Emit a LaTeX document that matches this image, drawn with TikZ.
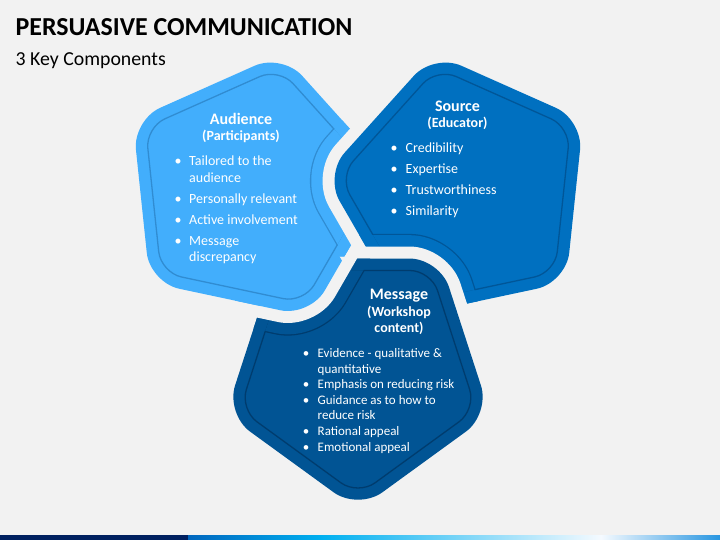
\documentclass[tikz,border=0pt]{standalone}
\usepackage{fontspec}
\setmainfont{Carlito}
\usetikzlibrary{calc}
\definecolor{bgc}{HTML}{F2F2F2}
\definecolor{cA}{RGB}{66,174,252}
\definecolor{lA}{RGB}{48,140,210}
\definecolor{cB}{RGB}{0,112,192}
\definecolor{lB}{RGB}{0,86,152}
\definecolor{cC}{RGB}{1,84,148}
\definecolor{lC}{RGB}{0,60,110}
\definecolor{navy}{RGB}{0,32,96}
\newcommand\pentp[4]{($(#1,#2)+(#4:#3)$) -- ($(#1,#2)+(#4+72:#3)$) -- ($(#1,#2)+(#4+144:#3)$) -- ($(#1,#2)+(#4+216:#3)$) -- ($(#1,#2)+(#4+288:#3)$) -- cycle}
\def\PA{\pentp{253.2}{189.5}{139}{66}}
\def\PAi{\pentp{253.2}{189.5}{124.2}{66}}
\def\PAx{\pentp{253.2}{189.5}{141}{66}}
\def\PB{\pentp{462.8}{189.5}{139}{-30}}
\def\PBi{\pentp{462.8}{189.5}{124.2}{-30}}
\def\PBx{\pentp{462.8}{189.5}{141}{-30}}
\def\PC{\pentp{358}{371}{139}{90}}
\def\PCi{\pentp{358}{371}{124.2}{90}}
\def\PCx{\pentp{358}{371}{141}{90}}
\tikzset{
  outer/.style={rounded corners=30pt},
  inner/.style={rounded corners=21pt},
  inl/.style={line width=1.3pt, inner},
  thick ring/.style={outer, line join=round},
  hd/.style={text=white, font=\fontsize{16}{18}\selectfont\bfseries, anchor=base, inner sep=0pt},
  sb/.style={text=white, font=\fontsize{14}{16}\selectfont\bfseries, anchor=base, inner sep=0pt},
  bl/.style={text=white, font=\fontsize{14}{16}\selectfont, anchor=base west, inner sep=0pt},
  bu/.style={text=white, font=\fontsize{14}{16}\selectfont, anchor=base, inner sep=0pt},
  blm/.style={text=white, font=\fontsize{13}{15}\selectfont, anchor=base west, inner sep=0pt},
  bum/.style={text=white, font=\fontsize{13}{15}\selectfont, anchor=base, inner sep=0pt},
}
% #1 shape path, #2 inset path, #3 poking neighbour, #4 fill colour, #5 line colour, #6 enlarged shape
\newcommand\notched[6]{%
  \fill[#4, outer] #1;
  \draw[#5, inl] #2;
  \begin{scope}
    \clip[outer] #1;
    \draw[#4, fill=#4, thick ring, line width=46.7pt] #3;
  \end{scope}
  \begin{scope}
    \clip[inner] #2;
    \draw[#5, fill=#5, thick ring, line width=49.3pt] #3;
    \draw[#4, fill=#4, thick ring, line width=46.7pt] #3;
  \end{scope}
  \begin{scope}
    \clip[outer] #6;
    \draw[bgc, fill=bgc, thick ring, line width=24pt] #3;
  \end{scope}
}
\begin{document}
\begin{tikzpicture}[x=1pt,y=-1pt]
\useasboundingbox (0,0) rectangle (720,540);
\fill[bgc] (0,0) rectangle (720,540);

\node[anchor=base west, inner sep=0pt, font=\fontsize{25.9}{30}\selectfont\bfseries] (title) at (15.5,36) {PERSUASIVE COMMUNICATION};
\node[anchor=base west, inner sep=0pt, font=\fontsize{19.8}{23}\selectfont] (subtitle) at (15.5,65.5) {3 Key Components};

\notched{\PA}{\PAi}{\PB}{cA}{lA}{\PAx}
\notched{\PB}{\PBi}{\PC}{cB}{lB}{\PBx}
\notched{\PC}{\PCi}{\PA}{cC}{lC}{\PCx}
% audience vertex poking into the message
\begin{scope}
  \clip (235,245) -- (333,245) -- (350,275) -- (350,335) -- (235,335) -- cycle;
  \fill[cA, outer] \PA;
  \draw[lA, inl] \PAi;
\end{scope}

% Audience
\node[hd] (audh) at (241,125) {Audience};
\node[sb] (auds) at (241,140.5) {(Participants)};
\node[bu] (ab1) at (178,166) {•};
\node[bl] (at1) at (189,166) {Tailored to the};
\node[bl] (at1b) at (189,182.5) {audience};
\node[bu] (ab2) at (178,204) {•};
\node[bl] (at2) at (189,204) {Personally relevant};
\node[bu] (ab3) at (178,225) {•};
\node[bl] (at3) at (189,225) {Active involvement};
\node[bu] (ab4) at (178,245) {•};
\node[bl] (at4) at (189,245) {Message};
\node[bl] (at4b) at (189,261.5) {discrepancy};

% Source
\node[hd] (srch) at (457.5,111.5) {Source};
\node[sb] (srcs) at (457.5,127.5) {(Educator)};
\node[bu] (sb1) at (394,153) {•};
\node[bl] (st1) at (405.5,153) {Credibility};
\node[bu] (sb2) at (394,173.5) {•};
\node[bl] (st2) at (405.5,173.5) {Expertise};
\node[bu] (sb3) at (394,194.5) {•};
\node[bl] (st3) at (405.5,194.5) {Trustworthiness};
\node[bu] (sb4) at (394,215) {•};
\node[bl] (st4) at (405.5,215) {Similarity};

% Message
\node[hd] (msgh) at (399,299.5) {Message};
\node[sb] (msgs1) at (399,316) {(Workshop};
\node[sb] (msgs2) at (399,332) {content)};
\node[bum] (mb1) at (306,357.5) {•};
\node[blm] (mt1) at (317.5,357.5) {Evidence - qualitative \&};
\node[blm] (mt1b) at (317.5,373) {quantitative};
\node[bum] (mb2) at (306,388.5) {•};
\node[blm] (mt2) at (317.5,388.5) {Emphasis on reducing risk};
\node[bum] (mb3) at (306,404) {•};
\node[blm] (mt3) at (317.5,404) {Guidance as to how to};
\node[blm] (mt3b) at (317.5,419.5) {reduce risk};
\node[bum] (mb4) at (306,435) {•};
\node[blm] (mt4) at (317.5,435) {Rational appeal};
\node[bum] (mb5) at (306,451) {•};
\node[blm] (mt5) at (317.5,451) {Emotional appeal};

% bottom bar
\fill[navy] (0,535) rectangle (188.5,540);
\shade[left color={rgb,255:red,0;green,102;blue,190}, right color={rgb,255:red,0;green,176;blue,240}] (188,535) rectangle (321.5,540);
\shade[left color={rgb,255:red,0;green,176;blue,240}, right color={rgb,255:red,245;green,250;blue,255}] (321,535) rectangle (601.5,540);
\shade[left color={rgb,255:red,245;green,250;blue,255}, right color={rgb,255:red,40;green,150;blue,225}] (601,535) rectangle (720,540);
\end{tikzpicture}
\end{document}
